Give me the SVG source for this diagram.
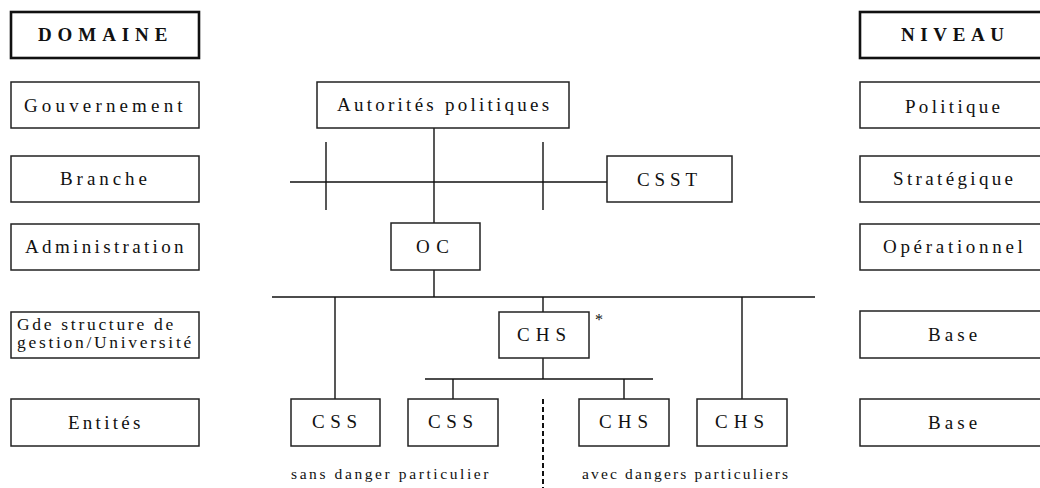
<svg xmlns="http://www.w3.org/2000/svg" width="1040" height="488" viewBox="0 0 1040 488">
<style>
.box{fill:#fff;stroke:#222;stroke-width:1.5}
.hdr{fill:#fff;stroke:#111;stroke-width:2.6}
.t{font-family:"Liberation Serif","Times New Roman",serif;font-size:19px;fill:#111}
.b{font-weight:bold}
.s{font-size:15.5px}
.ln{stroke:#111;stroke-width:1.4;fill:none}
.dash{stroke:#111;stroke-width:2;stroke-dasharray:5 3;fill:none}
</style>
<rect width="1040" height="488" fill="#fff"/>
<g id="connectors">
<line class="ln" x1="434" y1="128" x2="434" y2="223"/>
<line class="ln" x1="290" y1="182" x2="607" y2="182"/>
<line class="ln" x1="326" y1="142" x2="326" y2="210"/>
<line class="ln" x1="543" y1="142" x2="543" y2="210"/>
<line class="ln" x1="434" y1="270" x2="434" y2="297"/>
<line class="ln" x1="272" y1="297" x2="815" y2="297"/>
<line class="ln" x1="335" y1="297" x2="335" y2="399"/>
<line class="ln" x1="543" y1="297" x2="543" y2="312"/>
<line class="ln" x1="742" y1="297" x2="742" y2="399"/>
<line class="ln" x1="543" y1="358" x2="543" y2="379"/>
<line class="ln" x1="425" y1="379" x2="653" y2="379"/>
<line class="ln" x1="453" y1="379" x2="453" y2="399"/>
<line class="ln" x1="624" y1="379" x2="624" y2="399"/>
<line class="dash" x1="543" y1="399" x2="543" y2="488"/>
</g>
<g id="domaine"><rect class="hdr" x="11" y="12" width="188" height="46"/><text class="t b" x="38" y="41" letter-spacing="5.9">DOMAINE</text></g>
<g id="gouvernement"><rect class="box" x="11" y="82" width="188" height="46"/><text class="t" x="24" y="112" letter-spacing="4.15">Gouvernement</text></g>
<g id="branche"><rect class="box" x="11" y="156" width="188" height="46"/><text class="t" x="60" y="185" letter-spacing="3.95">Branche</text></g>
<g id="administration"><rect class="box" x="11" y="224" width="188" height="46"/><text class="t" x="25" y="253" letter-spacing="3.35">Administration</text></g>
<g id="gde-structure"><rect class="box" x="11" y="312" width="188" height="46"/><text class="t" style="font-size:17.5px" x="17" y="330" letter-spacing="2.7">Gde structure de</text><text class="t" style="font-size:17.5px" x="17" y="348" letter-spacing="2.7">gestion/Université</text></g>
<g id="entites"><rect class="box" x="11" y="399" width="188" height="47"/><text class="t" x="68" y="429" letter-spacing="3.25">Entités</text></g>
<g id="niveau"><rect class="hdr" x="860" y="12" width="188" height="46"/><text class="t b" x="901" y="41" letter-spacing="5.6">NIVEAU</text></g>
<g id="politique"><rect class="box" x="860" y="82" width="188" height="46"/><text class="t" x="905" y="113" letter-spacing="3.3">Politique</text></g>
<g id="strategique"><rect class="box" x="860" y="156" width="188" height="46"/><text class="t" x="893" y="185" letter-spacing="3.35">Stratégique</text></g>
<g id="operationnel"><rect class="box" x="860" y="224" width="188" height="46"/><text class="t" x="883" y="253" letter-spacing="3.7">Opérationnel</text></g>
<g id="base1"><rect class="box" x="860" y="311" width="188" height="47"/><text class="t" x="928" y="341" letter-spacing="4.05">Base</text></g>
<g id="base2"><rect class="box" x="860" y="399" width="188" height="47"/><text class="t" x="928" y="429" letter-spacing="4.05">Base</text></g>
<g id="autorites"><rect class="box" x="317" y="82" width="252" height="46"/><text class="t" x="337" y="111" letter-spacing="3.25">Autorités politiques</text></g>
<g id="csst"><rect class="box" x="607" y="156" width="125" height="46"/><text class="t" x="637" y="186" letter-spacing="4.9">CSST</text></g>
<g id="oc"><rect class="box" x="391" y="223" width="89" height="47"/><text class="t" x="416" y="253" letter-spacing="6.6">OC</text></g>
<g id="chs-mid"><rect class="box" x="499" y="312" width="90" height="46"/><text class="t" x="517" y="341" letter-spacing="6">CHS</text><text class="t" style="font-size:16px" x="595" y="325">*</text></g>
<g id="css1"><rect class="box" x="291" y="399" width="89" height="47"/><text class="t" x="312" y="428" letter-spacing="5.6">CSS</text></g>
<g id="css2"><rect class="box" x="408" y="399" width="90" height="47"/><text class="t" x="428" y="428" letter-spacing="5.6">CSS</text></g>
<g id="chs3"><rect class="box" x="579" y="399" width="90" height="47"/><text class="t" x="599" y="428" letter-spacing="6">CHS</text></g>
<g id="chs4"><rect class="box" x="697" y="399" width="90" height="47"/><text class="t" x="715" y="428" letter-spacing="6">CHS</text></g>
<g id="labels"><text class="t s" x="291" y="479" letter-spacing="2.6">sans danger particulier</text><text class="t s" x="582" y="479" letter-spacing="2.17">avec dangers particuliers</text></g>
</svg>
